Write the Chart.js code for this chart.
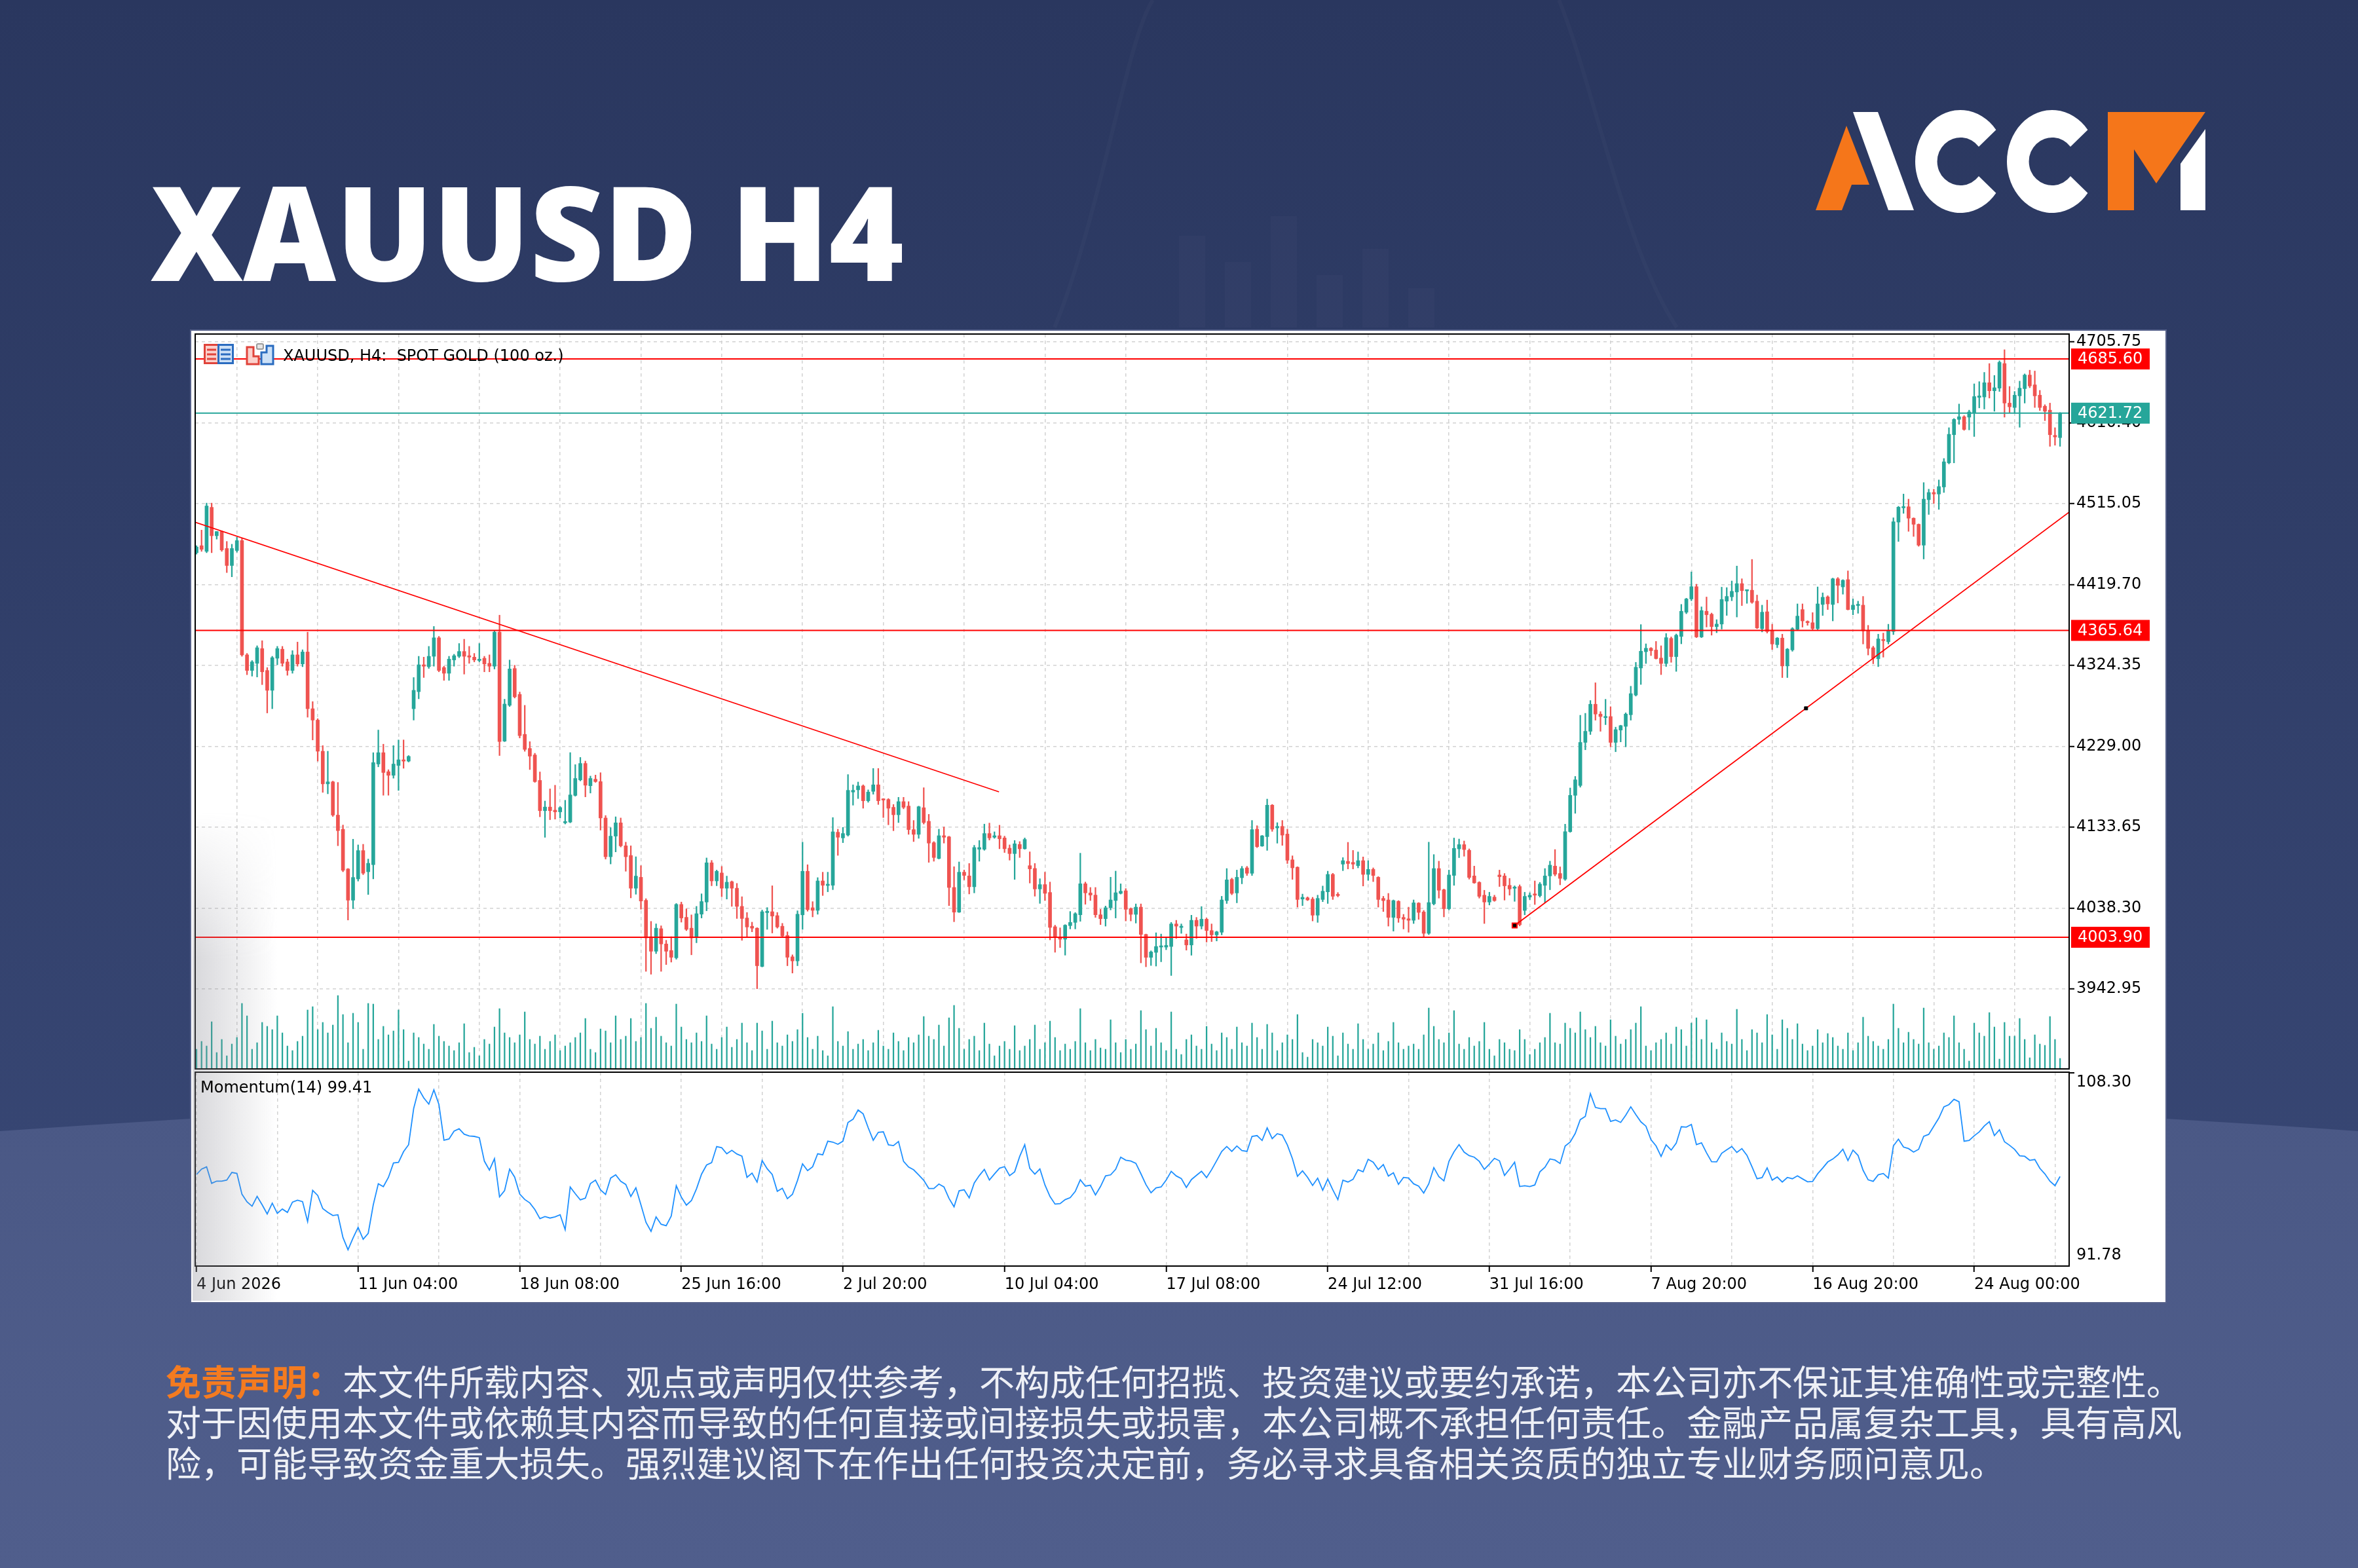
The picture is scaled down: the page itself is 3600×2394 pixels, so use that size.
<!DOCTYPE html>
<html><head><meta charset="utf-8">
<script src="https://cdn.jsdelivr.net/npm/chart.js@4.4.1/dist/chart.umd.min.js"></script>
<style>
html,body{margin:0;padding:0;}
body{width:3600px;height:2394px;position:relative;overflow:hidden;background:#2c3a63;}
.abs{position:absolute;}
#title{position:absolute;left:230px;top:252px;font-family:"Open Sans";font-weight:800;font-size:200px;line-height:200px;color:#fff;white-space:nowrap;transform-origin:0 0;}
#panel{position:absolute;left:292px;top:505px;width:3014px;height:1483px;background:#fff;box-shadow:0 0 0 2px #56618a;}
canvas{position:absolute;}
#legtext{position:absolute;left:432px;top:528px;font-family:"DejaVu Sans";font-size:24px;line-height:30px;color:#000;white-space:pre;z-index:5;}
#momlabel{position:absolute;left:306px;top:1645px;font-family:"DejaVu Sans";font-size:24px;line-height:30px;color:#000;z-index:5;white-space:pre;}
#disc{position:absolute;left:253px;top:2077px;font-family:"Noto Sans CJK SC";font-size:54px;line-height:62px;color:#eef0f6;white-space:nowrap;}
#disc .h{color:#f47b20;font-weight:700;}
#glare{position:absolute;left:294px;top:1240px;width:130px;height:746px;z-index:4;pointer-events:none;
 background:linear-gradient(90deg,rgba(140,140,150,0.34),rgba(160,160,170,0));
 -webkit-mask-image:linear-gradient(to bottom,transparent,#000 30%);mask-image:linear-gradient(to bottom,transparent,#000 30%);}
</style></head><body>
<svg class="abs" style="left:0;top:0" width="3600" height="2394">
 <defs>
  <linearGradient id="gTop" x1="0" y1="0" x2="0" y2="1">
   <stop offset="0" stop-color="#2a375f"/><stop offset="1" stop-color="#374673"/>
  </linearGradient>
  <linearGradient id="gBot" x1="0" y1="0" x2="0" y2="1">
   <stop offset="0" stop-color="#4a5885"/><stop offset="1" stop-color="#505e8c"/>
  </linearGradient>
 </defs>
 <rect x="0" y="0" width="3600" height="1800" fill="url(#gTop)"/>
 <path d="M0,1727 Q1800,1600 3600,1727 L3600,2394 L0,2394 Z" fill="url(#gBot)"/>
 <g fill="none" stroke="rgba(255,255,255,0.022)" stroke-width="6">
  <path d="M1610,500 C1680,330 1720,60 1760,0"/>
  <path d="M2380,0 C2430,120 2480,380 2560,500"/>
 </g>
 <g fill="rgba(255,255,255,0.018)">
  <rect x="1800" y="360" width="40" height="140"/><rect x="1870" y="400" width="40" height="100"/>
  <rect x="1940" y="330" width="40" height="170"/><rect x="2010" y="420" width="40" height="80"/>
  <rect x="2080" y="380" width="40" height="120"/><rect x="2150" y="440" width="40" height="60"/>
 </g>
 <polygon points="2772,321 2819,192 2854,282 2827,282 2812,321" fill="#f5761a"/>
 <polygon points="2829,171 2867,171 2922,321 2883,321" fill="#ffffff"/>
 <path d="M3047.4,198.2 A69,78.5 0 1 0 3047.4,294.8 L3021,269 A35.5,36.5 0 1 1 3021,224 Z" fill="#ffffff"/>
 <path d="M3187.4,198.2 A69,78.5 0 1 0 3187.4,294.8 L3161,269 A35.5,36.5 0 1 1 3161,224 Z" fill="#ffffff"/>
 <polygon points="3218,171 3367,171 3292,280 3258,228 3258,321 3218,321" fill="#f5761a"/>
 <polygon points="3329,250 3367,197 3367,321 3329,321" fill="#ffffff"/>
</svg>
<div id="title">XAUUSD H4</div>
<div id="panel"></div>
<canvas id="pc" width="3048" height="1162" style="left:278px;top:490px;width:3048px;height:1162px"></canvas>
<canvas id="mc" width="3048" height="391" style="left:278px;top:1617px;width:3048px;height:391px"></canvas>
<div id="glare"></div>
<svg class="abs" style="left:311px;top:525px;z-index:5" width="48" height="32">
 <rect x="1.5" y="1.5" width="21" height="28" fill="#fbd0cb" stroke="#e0433a" stroke-width="3"/>
 <rect x="22.5" y="1.5" width="22" height="28" fill="#cde1f7" stroke="#2a6cc0" stroke-width="3"/>
 <line x1="5" y1="9" x2="19" y2="9" stroke="#e0433a" stroke-width="3"/>
 <line x1="5" y1="16" x2="19" y2="16" stroke="#e0433a" stroke-width="3"/>
 <line x1="5" y1="23" x2="19" y2="23" stroke="#e0433a" stroke-width="3"/>
 <line x1="26" y1="9" x2="41" y2="9" stroke="#2a6cc0" stroke-width="3"/>
 <line x1="26" y1="16" x2="41" y2="16" stroke="#2a6cc0" stroke-width="3"/>
 <line x1="26" y1="23" x2="41" y2="23" stroke="#2a6cc0" stroke-width="3"/>
</svg>
<svg class="abs" style="left:375px;top:522px;z-index:5" width="46" height="36">
 <path d="M2,8 L12,8 L12,22 L20,22 L20,34 L2,34 Z" fill="#fbd0cb" stroke="#e0433a" stroke-width="3"/>
 <rect x="17" y="3" width="10" height="8" rx="2" fill="#e6e6e6" stroke="#9a9a9a" stroke-width="2"/>
 <path d="M24,16 L32,16 L32,6 L42,6 L42,34 L24,34 Z" fill="#cde1f7" stroke="#2a6cc0" stroke-width="3"/>
</svg>
<div id="legtext">XAUUSD, H4:  SPOT GOLD (100 oz.)</div>
<div id="momlabel">Momentum(14) 99.41</div>
<div id="disc">
 <div><span class="h">免责声明：</span>本文件所载内容、观点或声明仅供参考，不构成任何招揽、投资建议或要约承诺，本公司亦不保证其准确性或完整性。</div>
 <div>对于因使用本文件或依赖其内容而导致的任何直接或间接损失或损害，本公司概不承担任何责任。金融产品属复杂工具，具有高风</div>
 <div>险，可能导致资金重大损失。强烈建议阁下在作出任何投资决定前，务必寻求具备相关资质的独立专业财务顾问意见。</div>
</div>
<script>
// ---------------- DATA ----------------
const opens = [
4457.2,4465.5,4458.8,4510.7,4477.2,4482.2,4462.2,4442.1,4459.8,4471.5,
4336.8,4318.4,4326.8,4344.2,4318.4,4295.0,4332.8,4343.5,4328.5,4318.4,
4336.8,4326.1,4340.2,4273.3,4259.9,4223.2,4184.7,4187.1,4147.9,4131.2,
4084.4,4047.6,4072.7,4106.1,4081.1,4089.4,4208.1,4221.5,4199.1,4194.8,
4206.4,4213.1,4211.5,4273.3,4293.4,4325.1,4322.8,4335.1,4356.9,4321.8,
4315.1,4330.8,4335.1,4340.8,4335.8,4334.1,4330.1,4332.8,4326.8,4323.4,
4363.6,4235.1,4277.3,4320.7,4290.2,4243.1,4226.5,4218.8,4188.8,4153.1,
4157.4,4153.7,4151.7,4138.8,4139.7,4171.1,4189.4,4208.8,4182.5,4190.2,
4187.4,4144.5,4098.8,4123.1,4138.8,4111.7,4100.3,4061.7,4074.6,4047.4,
4004.6,3987.4,4014.0,3996.0,3988.3,3979.7,4042.6,4027.4,4014.6,4004.6,
4031.1,4045.4,4091.7,4070.3,4079.7,4061.7,4069.4,4061.7,4040.3,4026.6,
4016.9,4014.6,3969.5,4032.9,4034.0,4029.4,4016.9,4006.0,3980.9,3976.0,
4030.3,4081.7,4038.7,4035.6,4070.3,4064.9,4065.2,4127.7,4121.0,4124.4,
4175.1,4177.7,4182.3,4164.8,4175.9,4183.6,4166.8,4166.3,4157.1,4148.3,
4163.8,4158.6,4130.8,4125.2,4156.6,4140.6,4115.4,4096.8,4123.6,4122.3,
4062.6,4033.5,4080.6,4076.2,4063.4,4107.6,4107.6,4126.2,4121.8,4123.6,
4121.0,4108.9,4102.5,4113.3,4108.2,4088.3,4085.0,4060.8,4066.0,4056.7,
4016.3,4004.2,4001.6,4017.6,4021.4,4030.4,4067.0,4056.2,4053.6,4030.4,
4025.8,4038.7,4047.2,4055.6,4058.7,4037.6,4030.9,4039.4,4007.2,3980.2,
3986.1,3992.3,3992.3,3993.0,4019.6,4015.4,4000.8,3994.8,4023.9,4017.0,
4025.2,4011.8,4006.7,4009.8,4047.1,4072.1,4056.1,4074.1,4085.7,4079.3,
4131.3,4111.4,4122.5,4159.6,4132.8,4134.6,4125.6,4095.2,4086.5,4048.9,
4050.4,4048.9,4029.9,4048.4,4057.4,4078.0,4054.0,4090.1,4093.4,4092.1,
4088.3,4094.2,4078.0,4083.9,4074.6,4049.7,4047.9,4027.3,4046.3,4027.3,
4025.7,4023.9,4044.2,4033.7,4008.5,4043.3,4084.9,4059.9,4037.5,4076.8,
4108.1,4113.1,4106.4,4076.2,4068.6,4053.5,4045.4,4051.2,4077.3,4076.2,
4065.1,4061.6,4063.7,4035.5,4051.2,4054.9,4052.9,4065.1,4076.2,4087.8,
4079.1,4072.4,4128.4,4171.2,4182.8,4233.6,4246.7,4278.6,4267.0,4262.7,
4264.1,4233.6,4248.1,4252.5,4266.2,4289.4,4321.3,4340.5,4344.6,4342.5,
4333.0,4326.6,4356.2,4334.7,4358.5,4387.0,4402.7,4417.2,4357.9,4388.2,
4384.7,4370.1,4373.1,4400.1,4405.2,4410.9,4420.8,4412.2,4413.0,4400.1,
4367.7,4387.6,4365.1,4348.8,4356.6,4323.7,4342.6,4366.9,4390.2,4376.2,
4374.7,4367.7,4396.2,4405.2,4396.2,4426.5,4416.9,4425.5,4390.2,4394.9,
4395.4,4365.1,4345.2,4332.2,4354.8,4352.2,4364.3,4493.3,4510.1,4511.4,
4497.9,4490.7,4466.1,4519.7,4528.2,4526.4,4534.7,4563.1,4596.3,4614.4,
4617.5,4617.0,4622.2,4640.3,4640.8,4657.6,4648.1,4651.2,4680.2,4633.6,
4628.4,4642.1,4650.6,4666.7,4655.1,4642.9,4629.9,4625.3,4595.5,4592.9];
const highs = [
4465.5,4483.9,4515.7,4515.7,4482.2,4483.0,4470.5,4467.2,4475.6,4473.9,
4338.5,4330.1,4347.5,4353.5,4321.8,4335.1,4346.8,4346.8,4331.8,4341.8,
4351.9,4342.8,4363.6,4281.7,4261.6,4229.8,4223.2,4188.0,4186.4,4136.2,
4085.0,4119.5,4112.8,4113.5,4096.1,4221.5,4248.2,4231.5,4201.4,4229.8,
4236.5,4236.5,4218.1,4310.1,4335.1,4334.1,4346.8,4370.3,4358.6,4323.4,
4335.1,4337.5,4350.2,4355.2,4346.8,4338.5,4350.2,4335.1,4336.8,4365.2,
4383.6,4284.5,4330.7,4324.5,4293.0,4277.3,4234.5,4220.8,4198.8,4164.5,
4178.8,4183.1,4157.9,4165.4,4221.6,4207.4,4215.9,4211.6,4193.9,4195.1,
4197.9,4147.4,4133.1,4145.9,4144.5,4116.0,4111.7,4098.8,4088.3,4049.4,
4022.6,4019.7,4017.4,4000.3,4004.6,4043.7,4045.4,4037.4,4030.3,4040.3,
4055.1,4097.4,4094.5,4083.1,4087.4,4076.0,4070.3,4067.4,4051.7,4033.1,
4021.7,4015.2,4036.0,4038.9,4064.6,4033.1,4020.3,4010.3,3983.2,4035.1,
4116.0,4089.4,4045.9,4074.2,4080.6,4080.6,4145.0,4131.3,4133.4,4195.7,
4183.6,4186.9,4183.6,4177.7,4202.9,4202.9,4167.4,4167.4,4160.4,4168.9,
4168.9,4163.8,4141.6,4158.5,4180.2,4148.8,4116.7,4131.3,4133.9,4123.0,
4087.1,4092.7,4083.2,4090.9,4112.3,4118.0,4137.3,4138.5,4128.2,4136.0,
4123.1,4112.8,4118.0,4116.7,4121.0,4104.6,4090.9,4072.9,4080.6,4069.0,
4018.1,4015.0,4018.8,4034.3,4033.0,4103.0,4069.0,4062.6,4062.6,4036.9,
4040.7,4074.7,4081.9,4066.9,4061.3,4038.6,4043.2,4043.2,4007.7,3987.9,
4009.2,4007.7,4003.3,4021.4,4023.9,4019.6,4007.7,4029.9,4027.3,4040.1,
4026.5,4019.6,4011.1,4052.2,4084.9,4073.6,4083.1,4087.5,4087.5,4141.6,
4135.4,4124.0,4166.8,4160.5,4139.0,4141.6,4131.3,4099.9,4087.0,4054.8,
4051.5,4051.0,4053.5,4064.3,4081.8,4079.3,4056.6,4097.8,4115.8,4106.3,
4104.5,4098.6,4094.2,4085.7,4075.4,4052.2,4055.6,4047.9,4047.1,4030.9,
4039.4,4047.9,4044.8,4035.5,4116.0,4101.4,4093.6,4060.8,4083.1,4120.9,
4119.7,4117.4,4108.1,4087.8,4069.5,4059.3,4057.0,4053.5,4083.1,4079.1,
4073.3,4064.5,4065.7,4057.0,4056.4,4070.3,4068.6,4084.9,4093.6,4107.3,
4086.9,4137.2,4179.9,4193.5,4265.6,4267.9,4283.0,4303.9,4269.9,4284.4,
4275.7,4251.6,4253.9,4268.5,4299.8,4328.0,4372.5,4349.8,4345.5,4352.7,
4347.5,4362.0,4358.0,4361.4,4396.3,4403.6,4434.6,4420.1,4393.4,4405.0,
4386.1,4378.3,4416.6,4416.1,4423.9,4441.5,4426.5,4413.5,4449.3,4407.3,
4395.4,4401.4,4372.9,4357.4,4361.2,4344.4,4369.0,4396.9,4396.9,4377.0,
4386.6,4416.9,4409.9,4406.5,4427.3,4428.0,4425.5,4435.8,4402.7,4400.1,
4405.7,4371.6,4347.0,4361.2,4362.5,4372.9,4498.4,4511.9,4526.4,4520.4,
4498.4,4491.2,4539.9,4532.1,4532.1,4543.0,4568.3,4604.6,4615.4,4632.5,
4618.8,4625.3,4656.3,4658.9,4669.8,4680.2,4666.2,4683.5,4696.5,4653.2,
4647.3,4659.5,4668.0,4672.4,4671.4,4648.6,4631.7,4633.6,4604.6,4622.5];
const lows = [
4455.5,4458.8,4457.2,4457.2,4473.2,4458.8,4433.8,4428.8,4457.8,4335.1,
4313.4,4311.7,4310.7,4301.7,4268.3,4273.3,4325.1,4323.4,4312.7,4315.1,
4323.4,4322.8,4263.3,4236.5,4211.5,4174.7,4173.0,4146.3,4111.8,4081.1,
4024.2,4037.6,4070.1,4077.7,4054.3,4072.7,4204.8,4171.3,4171.3,4191.4,
4177.0,4203.1,4210.5,4259.9,4285.0,4310.1,4320.8,4323.4,4316.8,4306.7,
4306.7,4323.4,4333.5,4314.1,4326.8,4328.5,4328.5,4316.8,4316.8,4320.1,
4218.1,4234.5,4275.9,4285.9,4238.8,4223.1,4201.6,4186.5,4145.9,4121.7,
4142.5,4143.1,4144.5,4137.4,4138.8,4170.2,4188.2,4169.4,4173.9,4186.5,
4130.2,4096.0,4090.3,4104.5,4110.3,4081.7,4050.3,4054.6,4036.9,3963.7,
3960.3,3984.6,3963.7,3971.7,3974.6,3978.0,4021.7,4011.7,3983.2,3997.4,
4026.6,4035.1,4064.6,4064.6,4051.7,4048.9,4040.3,4026.0,4000.3,4004.6,
4010.3,3943.2,3968.9,4013.2,4008.9,4014.6,4004.6,3970.3,3961.7,3970.3,
4013.2,4034.6,4027.9,4031.0,4053.1,4057.5,4060.0,4100.4,4115.4,4123.1,
4159.6,4167.4,4156.0,4163.0,4172.5,4160.4,4145.0,4136.5,4129.5,4139.1,
4155.3,4125.2,4116.7,4120.5,4137.3,4092.2,4093.5,4096.1,4114.9,4041.2,
4022.2,4033.0,4071.6,4054.9,4056.2,4093.5,4106.4,4118.5,4120.5,4108.2,
4103.8,4094.8,4072.1,4097.9,4107.6,4067.8,4052.3,4043.8,4047.2,4000.8,
3986.2,3991.8,3982.8,4013.7,4013.7,4022.7,4042.8,4047.2,4027.3,4018.8,
4017.0,4036.1,4026.6,4054.8,4023.1,4023.1,4020.6,3973.7,3969.1,3970.6,
3969.9,3975.0,3989.2,3958.8,4002.6,4008.5,3988.7,3982.7,4002.6,4013.6,
3998.2,3998.8,3999.5,4006.7,4043.7,4054.0,4044.5,4066.9,4076.7,4076.7,
4109.6,4111.0,4106.3,4128.7,4114.8,4112.2,4090.8,4072.1,4039.4,4041.2,
4047.1,4023.1,4021.4,4045.8,4043.7,4048.4,4051.5,4082.4,4084.4,4084.4,
4085.7,4064.3,4071.0,4069.5,4039.4,4034.2,4017.0,4011.1,4021.4,4013.6,
4009.8,4020.1,4025.0,4004.7,4007.0,4041.9,4050.0,4027.9,4036.1,4065.1,
4097.7,4099.4,4072.4,4067.4,4050.0,4020.1,4041.9,4046.2,4063.7,4047.7,
4053.5,4046.2,4017.2,4030.3,4048.3,4042.5,4051.2,4044.8,4059.9,4076.2,
4065.7,4070.9,4127.6,4150.0,4180.8,4224.9,4242.9,4259.8,4246.7,4254.5,
4228.4,4222.6,4234.2,4228.4,4259.8,4288.2,4301.9,4326.6,4335.9,4331.8,
4313.5,4323.1,4328.0,4317.3,4349.8,4385.3,4400.6,4357.1,4357.1,4369.6,
4360.0,4362.9,4367.2,4383.3,4400.6,4381.4,4394.9,4397.5,4397.5,4367.7,
4363.8,4362.5,4343.1,4345.2,4310.0,4310.0,4341.0,4365.9,4369.5,4371.6,
4366.4,4366.4,4383.2,4390.2,4376.8,4398.0,4408.3,4389.7,4384.0,4385.8,
4349.6,4336.6,4326.3,4322.9,4334.1,4349.6,4360.7,4470.5,4503.6,4482.4,
4476.4,4464.8,4449.8,4502.3,4515.3,4508.3,4528.2,4561.9,4563.1,4608.5,
4601.5,4602.0,4594.2,4627.9,4626.6,4639.5,4624.0,4647.3,4617.0,4622.2,
4621.4,4605.1,4633.6,4651.7,4628.4,4624.8,4612.9,4582.6,4583.9,4582.6];
const closes = [
4463.9,4461.2,4512.3,4477.2,4482.2,4460.5,4442.1,4462.2,4471.5,4336.8,
4318.4,4328.5,4345.2,4316.8,4295.0,4333.5,4344.2,4326.8,4318.4,4336.8,
4326.1,4340.2,4273.3,4259.9,4223.2,4184.7,4187.1,4147.9,4129.6,4082.8,
4047.6,4074.4,4106.1,4079.4,4091.1,4209.8,4221.5,4198.1,4194.8,4208.1,
4213.1,4211.5,4217.1,4295.0,4325.1,4323.4,4335.1,4356.9,4318.4,4315.1,
4331.8,4335.8,4340.8,4335.1,4334.1,4330.8,4331.8,4326.1,4323.4,4363.6,
4234.7,4278.8,4320.2,4287.3,4241.6,4225.3,4217.4,4187.4,4153.1,4157.4,
4153.1,4151.7,4156.8,4140.2,4171.7,4191.1,4208.8,4183.1,4191.1,4187.4,
4144.5,4098.8,4123.1,4138.8,4111.7,4098.8,4061.7,4076.0,4046.6,4003.1,
3987.4,4014.6,3996.0,3987.4,3980.3,4042.6,4026.6,4013.2,4003.1,4031.7,
4046.0,4091.7,4070.3,4081.7,4061.7,4068.8,4061.7,4040.3,4026.0,4016.0,
4014.6,3970.3,4034.0,4034.6,4028.9,4016.0,4005.4,3980.3,3976.0,4031.1,
4081.7,4036.5,4035.6,4070.3,4065.2,4066.5,4128.2,4121.8,4126.2,4177.1,
4177.1,4182.3,4164.8,4175.1,4183.6,4164.8,4165.6,4156.0,4148.3,4163.8,
4157.1,4130.8,4125.2,4157.8,4139.1,4114.9,4097.9,4123.6,4121.8,4062.6,
4033.5,4080.6,4076.8,4063.4,4109.7,4109.7,4126.2,4121.0,4123.6,4120.0,
4108.2,4102.5,4114.1,4108.2,4119.2,4084.5,4060.8,4066.0,4055.7,4015.5,
4004.7,4001.6,4018.1,4021.4,4031.7,4067.0,4056.2,4053.6,4030.4,4025.8,
4038.7,4047.9,4056.4,4058.2,4036.8,4030.9,4039.4,4007.2,3980.2,3986.6,
3993.0,3993.8,3994.3,4019.6,4017.0,4017.0,3994.8,4023.9,4017.0,4025.2,
4011.8,4006.7,4010.3,4047.9,4071.6,4055.6,4074.6,4084.9,4079.3,4130.8,
4110.7,4123.5,4159.6,4131.3,4134.6,4124.3,4094.7,4085.7,4048.4,4051.0,
4047.9,4029.9,4049.7,4058.2,4078.0,4052.2,4053.0,4094.2,4090.8,4090.1,
4094.2,4078.0,4083.9,4076.7,4048.4,4047.1,4027.3,4047.1,4026.5,4025.2,
4023.9,4044.5,4033.2,4008.5,4044.8,4084.9,4059.3,4037.5,4077.3,4108.7,
4113.1,4107.3,4074.4,4068.0,4052.1,4045.4,4052.1,4047.1,4075.3,4064.5,
4060.8,4062.8,4018.6,4052.1,4053.5,4053.5,4066.6,4076.2,4088.9,4078.2,
4073.3,4128.4,4171.2,4189.5,4233.6,4246.7,4278.6,4267.0,4264.1,4264.1,
4233.6,4248.7,4253.4,4267.0,4291.1,4322.2,4341.1,4344.6,4341.7,4332.4,
4326.6,4357.1,4334.7,4360.0,4388.2,4402.7,4417.2,4357.9,4389.0,4384.1,
4370.1,4373.1,4402.1,4405.7,4411.7,4420.8,4412.5,4413.0,4398.8,4368.5,
4387.1,4364.3,4349.6,4356.6,4323.7,4343.6,4367.7,4382.5,4376.8,4374.7,
4367.7,4396.9,4404.7,4396.9,4426.5,4418.7,4424.7,4390.2,4395.4,4396.2,
4365.1,4344.4,4332.8,4355.6,4353.5,4365.1,4493.8,4510.9,4511.4,4497.9,
4490.7,4466.1,4520.4,4528.2,4526.4,4535.2,4564.4,4596.8,4614.4,4617.5,
4602.5,4623.2,4641.3,4642.1,4657.6,4648.1,4651.7,4681.7,4633.6,4629.2,
4642.9,4651.2,4666.7,4653.8,4642.1,4628.4,4624.0,4596.3,4593.7,4621.72];
const volumes = [
30,42,35,72,25,45,20,38,48,100, 81,30,40,71,65,60,81,55,35,28,
42,50,90,95,60,71,55,67,112,83, 40,85,71,30,100,99,45,65,52,58,
90,60,12,55,48,38,30,68,50,42, 35,28,40,69,25,33,20,45,38,64,
92,55,48,40,52,87,45,38,50,30, 42,52,28,35,40,48,55,77,30,25,
61,58,40,81,45,50,77,42,48,100, 62,79,50,40,35,99,64,45,40,55,
42,81,38,30,48,64,33,45,70,40, 28,70,58,30,73,40,35,52,42,60,
85,48,30,50,28,20,95,42,35,57, 30,38,45,28,40,59,35,30,55,42,
28,48,40,52,80,50,45,67,35,78, 97,62,30,45,50,28,70,38,20,35,
42,30,66,28,35,45,67,30,40,73, 48,28,38,30,42,92,40,28,45,32,
30,75,40,25,45,30,38,89,60,35, 62,40,28,87,30,22,45,52,35,30,
65,38,28,55,48,30,64,40,35,70, 48,30,68,55,28,40,52,45,83,25,
18,45,40,35,64,50,20,55,38,30, 69,45,30,38,55,28,42,71,40,30,
35,38,30,52,93,65,45,40,55,89, 38,30,48,35,42,71,30,20,45,40,
30,28,60,45,22,30,40,48,85,40, 38,70,62,55,87,60,48,65,40,35,
75,50,38,45,60,70,95,35,28,40, 45,55,38,64,60,35,70,78,45,75,
40,30,55,42,38,91,45,28,60,55, 40,83,52,30,75,62,45,69,38,28,
35,60,40,54,48,35,30,55,28,40, 79,50,42,35,30,45,99,62,40,56,
45,38,93,40,30,35,55,48,81,40, 30,12,70,55,50,86,64,15,71,50,
50,77,45,17,52,38,36,80,45,16];
const momentum = [
99.58,100.04,100.23,98.83,99.02,99.02,99.11,99.76,99.67,97.90,
97.25,96.88,97.72,97.00,96.22,97.14,96.27,96.64,96.35,97.23,
97.39,97.27,95.57,98.23,97.80,96.68,96.36,96.09,96.15,94.21,
93.17,94.17,95.08,94.06,94.57,97.00,98.79,98.55,99.33,100.56,
100.62,101.53,102.12,105.20,106.86,106.11,105.58,106.80,105.56,102.50,
102.61,103.28,103.48,103.02,102.87,102.83,102.72,100.72,99.96,100.93,
97.68,98.21,100.04,99.36,97.92,97.45,97.16,96.59,95.82,96.00,
95.87,95.97,96.15,94.88,98.51,97.95,97.42,97.57,98.81,99.10,
98.27,97.88,99.28,99.55,99.00,98.73,97.71,98.45,97.00,95.51,
94.74,95.97,95.34,95.22,96.04,98.63,97.66,96.97,97.36,98.36,
99.61,100.39,100.59,101.96,101.86,101.35,101.64,101.33,101.15,99.34,
99.70,98.93,100.77,100.07,99.58,98.15,98.41,97.52,97.89,99.07,
100.49,99.91,100.24,101.35,101.26,102.42,102.34,102.16,102.42,104.01,
104.29,105.08,104.75,103.57,102.50,103.18,103.22,102.11,102.04,102.39,
100.70,100.22,99.98,99.54,99.09,98.39,98.39,98.77,98.52,97.55,
96.83,98.19,98.28,97.59,98.86,99.49,100.02,99.11,99.63,100.12,
100.25,99.49,99.81,101.12,102.12,100.10,99.61,100.06,98.69,97.71,
97.06,97.10,97.44,97.61,98.14,99.13,98.59,98.67,97.84,98.56,
99.46,99.55,100.02,101.06,100.80,100.73,100.53,99.65,98.72,98.02,
98.44,98.52,99.10,99.85,99.46,99.24,98.48,99.15,99.51,99.86,
99.32,99.99,100.76,101.54,101.97,101.55,102.01,101.62,101.55,102.83,
102.90,102.48,103.55,102.64,103.06,102.94,102.10,100.93,99.43,99.89,
99.34,98.65,99.27,98.24,99.20,98.27,97.44,99.10,98.94,99.17,
99.99,99.81,100.88,100.63,100.01,100.43,99.45,99.73,98.74,99.33,
99.28,98.79,98.59,98.00,98.79,100.17,99.40,99.04,100.71,101.52,
102.13,101.49,101.19,101.06,100.70,100.02,100.47,100.96,100.75,99.50,
100.04,100.63,98.56,98.62,98.55,98.69,99.81,100.20,100.91,100.81,
100.52,102.01,102.35,103.08,104.26,104.53,106.47,105.30,105.20,105.20,
104.11,104.23,104.02,104.63,105.35,104.69,104.07,103.70,102.55,102.02,
101.12,102.11,101.66,102.25,103.65,103.62,103.85,102.13,102.28,101.43,
100.67,100.66,101.39,101.69,101.97,101.46,101.79,101.22,100.24,99.22,
99.32,100.15,99.10,99.37,98.94,99.33,99.22,99.47,99.21,98.96,
98.98,99.64,100.13,100.65,100.90,101.25,101.73,100.77,101.66,101.21,
99.94,99.13,99.00,99.56,99.67,99.28,102.02,102.59,101.92,101.79,
101.49,101.73,102.84,103.00,103.70,104.39,105.35,105.54,105.99,105.78,
102.42,102.49,102.88,103.21,103.72,104.08,102.90,103.39,102.37,102.07,
101.72,101.18,101.13,100.79,100.86,100.11,99.63,99.01,98.63,99.41];
const dateLabels = ['4 Jun 2026','11 Jun 04:00','18 Jun 08:00','25 Jun 16:00','2 Jul 20:00','10 Jul 04:00','17 Jul 08:00','24 Jul 12:00','31 Jul 16:00','7 Aug 20:00','16 Aug 20:00','24 Aug 00:00'];
const dateLabelIdx = [0,32,64,96,128,160,192,224,256,288,320,352];
const priceTicks = [4705.75,4610.40,4515.05,4419.70,4324.35,4229.00,4133.65,4038.30,3942.95];
const priceRange = [3848.7,4715.0];
const momRange = [91.78,108.30];
const momTickLabels = ['108.30','91.78'];
const levelValues = [4685.60,4621.72,4365.64,4003.90];
const trendDownX = [-0.26,158.9], trendDownY = [4493.1,4175.3];
const trendUpX = [261.0,370.8], trendUpY = [4017.8,4505.0];
const anchorX = [261.0,318.7], anchorY = [4017.8,4273.8];
const xRange = [-0.26,370.8];

// ---------------- STYLE ----------------
const TEAL = '#26a69a', RED = '#ef5350';
const levelColors = ['#ff0000','#26a69a','#ff0000','#ff0000'];
const PLOT_LEFT = 298, PRICE_TOP = 510, MOM_TOP = 1637, AXIS_W = 147;
const GRID = '#d2d2d2';
const gridIdx = []; for (let v = 0; v <= 368; v += 16) gridIdx.push(v);

const idx = closes.map((_, i) => i);
const candleColors = idx.map(i => closes[i] >= opens[i] ? TEAL : RED);

function lineDs(xs, ys, color, w) {
  return {type:'line', data: xs.map((x,k)=>({x:x, y:ys[k]})), borderColor:color, borderWidth:w,
          pointRadius:0, fill:false, tension:0, order:0, yAxisID:'y'};
}

const framePlugin = {
  id:'frame',
  afterDraw(chart) {
    const {ctx, chartArea:a} = chart;
    ctx.save();
    ctx.strokeStyle = '#000'; ctx.lineWidth = 2;
    ctx.strokeRect(a.left, a.top, a.right - a.left, a.bottom - a.top);
    ctx.restore();
  }
};

const tagPlugin = {
  id:'tags',
  afterDraw(chart) {
    const {ctx, chartArea:a} = chart;
    const ys = chart.scales.y;
    ctx.save();
    ctx.font = '24px "DejaVu Sans"';
    ctx.textBaseline = 'middle'; ctx.textAlign = 'left';
    levelValues.forEach((v, k) => {
      const py = ys.getPixelForValue(v);
      ctx.fillStyle = levelColors[k];
      ctx.fillRect(a.right + 3, py - 16, 120, 32);
      ctx.fillStyle = '#fff';
      ctx.fillText(v.toFixed(2), a.right + 13, py + 1);
    });
    ctx.restore();
  }
};

const momAxisPlugin = {
  id:'momaxis',
  afterDraw(chart) {
    const {ctx, chartArea:a} = chart;
    const ys = chart.scales.y;
    ctx.save();
    ctx.font = '24px "DejaVu Sans"'; ctx.fillStyle = '#000';
    ctx.textAlign = 'left'; ctx.textBaseline = 'middle';
    const top = ys.getPixelForValue(momRange[1]);
    const bot = ys.getPixelForValue(momRange[0]);
    ctx.fillText(momTickLabels[0], a.right + 11, top + 16);
    ctx.fillText(momTickLabels[1], a.right + 11, bot - 16);
    ctx.strokeStyle = '#000'; ctx.lineWidth = 2;
    ctx.beginPath(); ctx.moveTo(a.right, top + 1); ctx.lineTo(a.right + 8, top + 1); ctx.stroke();
    ctx.restore();
  }
};

const xBase = {
  type:'linear', min:xRange[0], max:xRange[1], offset:false,
  afterBuildTicks: s => { s.ticks = gridIdx.map(v => ({value:v})); },
  grid:{color:GRID, lineWidth:1.5, drawTicks:false},
  border:{display:false, dash:[5,5]}
};

function build() {
  const pc = document.getElementById('pc');
  const priceChart = new Chart(pc, {
    type:'bar',
    data:{datasets:[
      {type:'bar', data: idx.map(i => ({x:i, y:[opens[i], closes[i]]})), backgroundColor:candleColors,
       borderWidth:0, barThickness:5, minBarLength:2, grouped:false, order:2, yAxisID:'y'},
      {type:'bar', data: idx.map(i => ({x:i, y:[lows[i], highs[i]]})), backgroundColor:candleColors,
       borderWidth:0, barThickness:1.6, grouped:false, order:3, yAxisID:'y'},
      {type:'bar', data: idx.map(i => ({x:i, y:volumes[i]})), backgroundColor:TEAL,
       borderWidth:0, barThickness:1.6, grouped:false, order:4, yAxisID:'yv'},
      lineDs([xRange[0], xRange[1]], [levelValues[0], levelValues[0]], levelColors[0], 2),
      lineDs([xRange[0], xRange[1]], [levelValues[1], levelValues[1]], levelColors[1], 2),
      lineDs([xRange[0], xRange[1]], [levelValues[2], levelValues[2]], levelColors[2], 2),
      lineDs([xRange[0], xRange[1]], [levelValues[3], levelValues[3]], levelColors[3], 2),
      lineDs(trendDownX, trendDownY, '#ff0000', 1.8),
      lineDs(trendUpX, trendUpY, '#ff0000', 1.8),
      {type:'scatter', data: anchorX.map((x,k)=>({x:x, y:anchorY[k]})), pointStyle:'rect',
       pointRadius:[5,3.5], backgroundColor:'#000', borderColor:['#ff0000','#000'], borderWidth:[2,1], order:-1, yAxisID:'y'}
    ]},
    options:{
      responsive:false, animation:false, devicePixelRatio:1, events:[],
      layout:{padding:{left:20, right:20, top:20, bottom:20}},
      plugins:{legend:{display:false}, tooltip:{enabled:false}},
      scales:{
        x: Object.assign({}, xBase, {ticks:{display:false}, afterFit: s => { s.height = 0; }}),
        y: {type:'linear', position:'right', min:priceRange[0], max:priceRange[1],
            afterBuildTicks: s => { s.ticks = priceTicks.map(v => ({value:v})); },
            afterFit: s => { s.width = AXIS_W; },
            ticks:{color:'#000', font:{family:'DejaVu Sans', size:24}, padding:3, autoSkip:false,
                   callback: v => Number(v).toFixed(2)},
            grid:{color:GRID, lineWidth:1.5, tickColor:'#000', tickLength:8, tickWidth:2, tickBorderDash:[]},
            border:{display:false, dash:[5,5]}},
        yv: {type:'linear', display:false, min:0, max:1122}
      }
    },
    plugins:[framePlugin, tagPlugin]
  });
  const a1 = priceChart.chartArea;
  pc.style.left = (PLOT_LEFT - a1.left) + 'px';
  pc.style.top = (PRICE_TOP - a1.top) + 'px';

  const mc = document.getElementById('mc');
  const momChart = new Chart(mc, {
    type:'line',
    data:{datasets:[
      {data: idx.map(i => ({x:i, y:momentum[i]})), borderColor:'#1e90ff', borderWidth:1.8,
       pointRadius:0, tension:0, fill:false}
    ]},
    options:{
      responsive:false, animation:false, devicePixelRatio:1, events:[],
      layout:{padding:{left:20, right:20, top:20, bottom:20}},
      plugins:{legend:{display:false}, tooltip:{enabled:false}},
      scales:{
        x: Object.assign({}, xBase, {
          afterFit: s => { s.height = 55; },
          ticks:{display:true, align:'start', maxRotation:0, minRotation:0, autoSkip:false, padding:5,
                 color:'#000', font:{family:'DejaVu Sans', size:24}, 
                 callback: v => { const k = dateLabelIdx.indexOf(v); return k >= 0 ? dateLabels[k] : ''; }},
          grid:{color:GRID, lineWidth:1.5, drawTicks:true, tickLength:9, tickWidth:2, tickBorderDash:[],
                tickColor: c => (c.tick && dateLabelIdx.indexOf(c.tick.value) >= 0) ? '#000' : 'rgba(0,0,0,0)'}
        }),
        y: {type:'linear', position:'right', min:momRange[0], max:momRange[1],
            afterFit: s => { s.width = AXIS_W; },
            ticks:{display:false}, grid:{display:false}, border:{display:false}}
      }
    },
    plugins:[framePlugin, momAxisPlugin]
  });
  const a2 = momChart.chartArea;
  mc.style.left = (PLOT_LEFT - a2.left) + 'px';
  mc.style.top = (MOM_TOP - a2.top) + 'px';

  const t = document.getElementById('title');
  const w = t.getBoundingClientRect().width;
  t.style.transform = 'scaleX(' + (1150 / w) + ')';
}
const fontsReady = (document.fonts && document.fonts.load)
  ? Promise.all([document.fonts.load('24px "DejaVu Sans"'), document.fonts.load('800 200px "Open Sans"'), document.fonts.load('54px "Noto Sans CJK SC"')]).catch(()=>{})
  : Promise.resolve();
fontsReady.then(build, build);
</script>
</body></html>
